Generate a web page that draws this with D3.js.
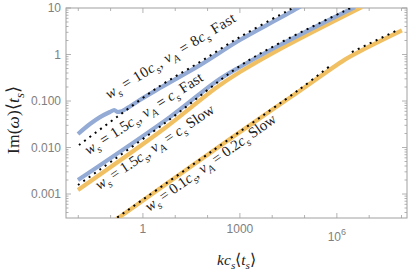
<!DOCTYPE html>
<html>
<head>
<meta charset="utf-8">
<script src="https://cdn.jsdelivr.net/npm/d3@7"></script>
<style>
  body { margin: 0; background: #fff; }
</style>
</head>
<body>
<div id="renderDiv"></div>
<script>
// growth rate Im(w)<t_s> against k c_s <t_s>
const fast10K   = [0.0098, 0.023, 0.047, 0.095, 0.13, 0.165, 0.2, 0.3, 0.8, 3.36, 58, 1000, 17300, 62200, 150000];
const fast10Im  = [0.0195, 0.032, 0.045, 0.058, 0.064, 0.058, 0.059, 0.068, 0.105, 0.19, 0.59, 2.05, 6.1, 10, 14.5];
const fast10ApproxK  = [0.0105, 0.157, 3.36, 58, 1000, 17300, 43600, 100000];
const fast10ApproxIm = [0.0113, 0.0453, 0.21, 0.69, 2.38, 7.1, 10, 14];

const fast15K   = [0.0098, 6.8, 180, 1000, 17300, 3.6e6];
const fast15Im  = [0.0020, 0.045, 0.26, 0.54, 1.6, 10.5];
const slow15K   = [0.0098, 4.8, 180, 1000, 17300, 5.9e6];
const slow15Im  = [0.00122, 0.0262, 0.19, 0.42, 1.31, 10.5];
const m15ApproxK  = [0.0098, 4.8, 1000, 17300, 3.13e6];
const m15ApproxIm = [0.00156, 0.0337, 0.566, 1.77, 10.5];

const slow01K   = [0.11, 491, 35200, 1.77e6, 4.16e6, 1.03e8];
const slow01Im  = [0.000244, 0.01524, 0.1183, 0.776, 1.088, 3.31];
const slow01ApproxAK  = [0.11, 490, 71800, 6.08e5];
const slow01ApproxAIm = [0.00026, 0.0155, 0.181, 0.566];
const slow01ApproxBK  = [2.91e6, 7.7e7];
const slow01ApproxBIm = [1.13, 3.37];

const xTicks = [1e-2, 1e-1, 1, 10, 100, 1e3, 1e4, 1e5, 1e6, 1e7, 1e8];
const xLabelled = [1, 1e3, 1e6];
const yMajor = [1e-3, 1e-2, 1e-1, 1, 10];
const yMajorText = ["0.001", "0.010", "0.100", "1", "10"];

// rotated labels: centre point (on baseline) in data coords, angle, length
const labelK   = [8.5, 1.28, 2.8, 150];
const labelIm  = [0.76, 0.044, 0.0084, 0.0039];
const labelRot = [-31.6, -33, -34, -35.3];
const labelLen = [150, 138, 140, 157];
const labelParts = [
  [["w", "i"], ["s", "sub"], [" = 10"], ["c", "i"], ["s", "sub"], [", "], ["v", "i"], ["A", "sub"], [" = 8"], ["c", "i"], ["s", "sub"], ["  Fast"]],
  [["w", "i"], ["s", "sub"], [" = 1.5"], ["c", "i"], ["s", "sub"], [", "], ["v", "i"], ["A", "sub"], [" = "], ["c", "i"], ["s", "sub"], ["  Fast"]],
  [["w", "i"], ["s", "sub"], [" = 1.5"], ["c", "i"], ["s", "sub"], [", "], ["v", "i"], ["A", "sub"], [" = "], ["c", "i"], ["s", "sub"], ["  Slow"]],
  [["w", "i"], ["s", "sub"], [" = 0.1"], ["c", "i"], ["s", "sub"], [", "], ["v", "i"], ["A", "sub"], [" = 0.2"], ["c", "i"], ["s", "sub"], ["  Slow"]]
];

const blue = "#93abd5", orange = "#f1c062";
const frameColor = "#a0a0a0", tickText = "#808080";
const serif = "'Liberation Serif', 'Times New Roman', serif";
const sans = "'Liberation Sans', Arial, sans-serif";

const W = 416, H = 273;
const plotL = 66, plotR = 407, plotT = 8, plotB = 218;

const svg = d3.select("#renderDiv").append("svg")
    .attr("width", W).attr("height", H)
    .style("display", "block");

const x = d3.scaleLog().domain([Math.pow(10, -2.38), Math.pow(10, 8.17)]).range([plotL, plotR]);
const y = d3.scaleLog().domain([Math.pow(10, -3.516), 10]).range([plotB, plotT]);

svg.append("clipPath").attr("id", "plotClip")
    .append("rect").attr("x", plotL).attr("y", plotT)
    .attr("width", plotR - plotL).attr("height", plotB - plotT);

// frame
svg.append("rect")
    .attr("x", plotL).attr("y", plotT)
    .attr("width", plotR - plotL).attr("height", plotB - plotT)
    .attr("fill", "none").attr("stroke", frameColor).attr("stroke-width", 1);

// ticks, pointing inward on all four sides
const tickG = svg.append("g").attr("stroke", frameColor).attr("stroke-width", 0.8);
xTicks.forEach(function (v) {
    let len = xLabelled.indexOf(v) >= 0 ? 5 : 3;
    let px = x(v);
    tickG.append("line").attr("x1", px).attr("x2", px).attr("y1", plotB).attr("y2", plotB - len);
    tickG.append("line").attr("x1", px).attr("x2", px).attr("y1", plotT).attr("y2", plotT + len);
});
yMajor.forEach(function (v, i) {
    let py = y(v);
    tickG.append("line").attr("x1", plotL).attr("x2", plotL + 5).attr("y1", py).attr("y2", py);
    tickG.append("line").attr("x1", plotR).attr("x2", plotR - 5).attr("y1", py).attr("y2", py);
    if (i < yMajor.length - 1) {
        for (let m = 2; m <= 9; m++) {
            let pm = y(v * m);
            tickG.append("line").attr("x1", plotL).attr("x2", plotL + 2.5).attr("y1", pm).attr("y2", pm);
            tickG.append("line").attr("x1", plotR).attr("x2", plotR - 2.5).attr("y1", pm).attr("y2", pm);
        }
    }
});
// minor below lowest major
for (let m = 4; m <= 9; m++) {
    let pm = y(1e-4 * m);
    if (pm <= plotB) {
        tickG.append("line").attr("x1", plotL).attr("x2", plotL + 2.5).attr("y1", pm).attr("y2", pm);
        tickG.append("line").attr("x1", plotR).attr("x2", plotR - 2.5).attr("y1", pm).attr("y2", pm);
    }
}

// tick labels
yMajor.forEach(function (v, i) {
    svg.append("text")
        .attr("x", plotL - 5).attr("y", y(v) + 4)
        .attr("text-anchor", "end")
        .attr("font-family", sans).attr("font-size", 12)
        .attr("fill", tickText)
        .text(yMajorText[i]);
});
xLabelled.forEach(function (v) {
    let t = svg.append("text")
        .attr("x", x(v)).attr("text-anchor", "middle")
        .attr("font-family", sans).attr("font-size", 12)
        .attr("fill", tickText);
    if (v < 1e6) {
        t.attr("y", 233).text(d3.format(",")(v).replace(/,/g, ""));
    } else {
        let e = Math.round(Math.log10(v));
        t.attr("y", 241);
        t.append("tspan").text("10");
        t.append("tspan").attr("font-size", 9).attr("dy", -6).text(e);
    }
});

// curves
const smooth = d3.line()
    .x(function (d) { return x(d[0]); })
    .y(function (d) { return y(d[1]); })
    .curve(d3.curveCatmullRom.alpha(0.5));
const mono = d3.line()
    .x(function (d) { return x(d[0]); })
    .y(function (d) { return y(d[1]); })
    .curve(d3.curveMonotoneX);

const curveG = svg.append("g").attr("clip-path", "url(#plotClip)");

function drawSolid(ks, ims, color, gen) {
    curveG.append("path")
        .datum(d3.zip(ks, ims))
        .attr("d", gen || smooth)
        .attr("fill", "none")
        .attr("stroke", color)
        .attr("stroke-width", 4.2)
        .attr("stroke-linejoin", "round");
}
function drawDotted(ks, ims) {
    curveG.append("path")
        .datum(d3.zip(ks, ims))
        .attr("d", smooth)
        .attr("fill", "none")
        .attr("stroke", "#000")
        .attr("stroke-width", 2)
        .attr("stroke-dasharray", "2,4.6");
}

drawSolid(slow01K, slow01Im, orange);
drawSolid(slow15K, slow15Im, orange);
drawSolid(fast15K, fast15Im, blue);
drawSolid(fast10K, fast10Im, blue, mono);
drawDotted(fast10ApproxK, fast10ApproxIm);
drawDotted(m15ApproxK, m15ApproxIm);
drawDotted(slow01ApproxAK, slow01ApproxAIm);
drawDotted(slow01ApproxBK, slow01ApproxBIm);

// math text helper: parts are [text, style]
function mathText(sel, parts, size) {
    let shift = 0;
    parts.forEach(function (p) {
        let ts = sel.append("tspan").text(p[0]);
        let want = p[1] === "sub" ? size * 0.28 : 0;
        if (want !== shift) { ts.attr("dy", want - shift); shift = want; }
        if (p[1] === "sub") ts.attr("font-size", size * 0.72).attr("font-style", "italic");
        if (p[1] === "i") ts.attr("font-style", "italic");
    });
}

labelParts.forEach(function (parts, i) {
    let t = svg.append("text")
        .attr("transform", "translate(" + x(labelK[i]) + "," + y(labelIm[i]) + ") rotate(" + labelRot[i] + ")")
        .attr("text-anchor", "middle")
        .attr("font-family", serif).attr("font-size", 15)
        .attr("textLength", labelLen[i])
        .attr("lengthAdjust", "spacing")
        .attr("fill", "#222");
    mathText(t, parts, 15);
});

// axis titles
let xt = svg.append("text")
    .attr("x", (plotL + plotR) / 2).attr("y", 265)
    .attr("text-anchor", "middle")
    .attr("font-family", serif).attr("font-size", 15.5).attr("fill", "#222");
mathText(xt, [["kc", "i"], ["s", "sub"], ["\u27E8"], ["t", "i"], ["s", "sub"], ["\u27E9"]], 15.5);

let yt = svg.append("text")
    .attr("transform", "translate(19,120) rotate(-90)")
    .attr("text-anchor", "middle")
    .attr("font-family", serif).attr("font-size", 17.5)
    .attr("textLength", 68).attr("lengthAdjust", "spacing")
    .attr("fill", "#222");
mathText(yt, [["Im("], ["\u03C9", "i"], [")\u27E8"], ["t", "i"], ["s", "sub"], ["\u27E9"]], 17.5);
</script>
</body>
</html>
